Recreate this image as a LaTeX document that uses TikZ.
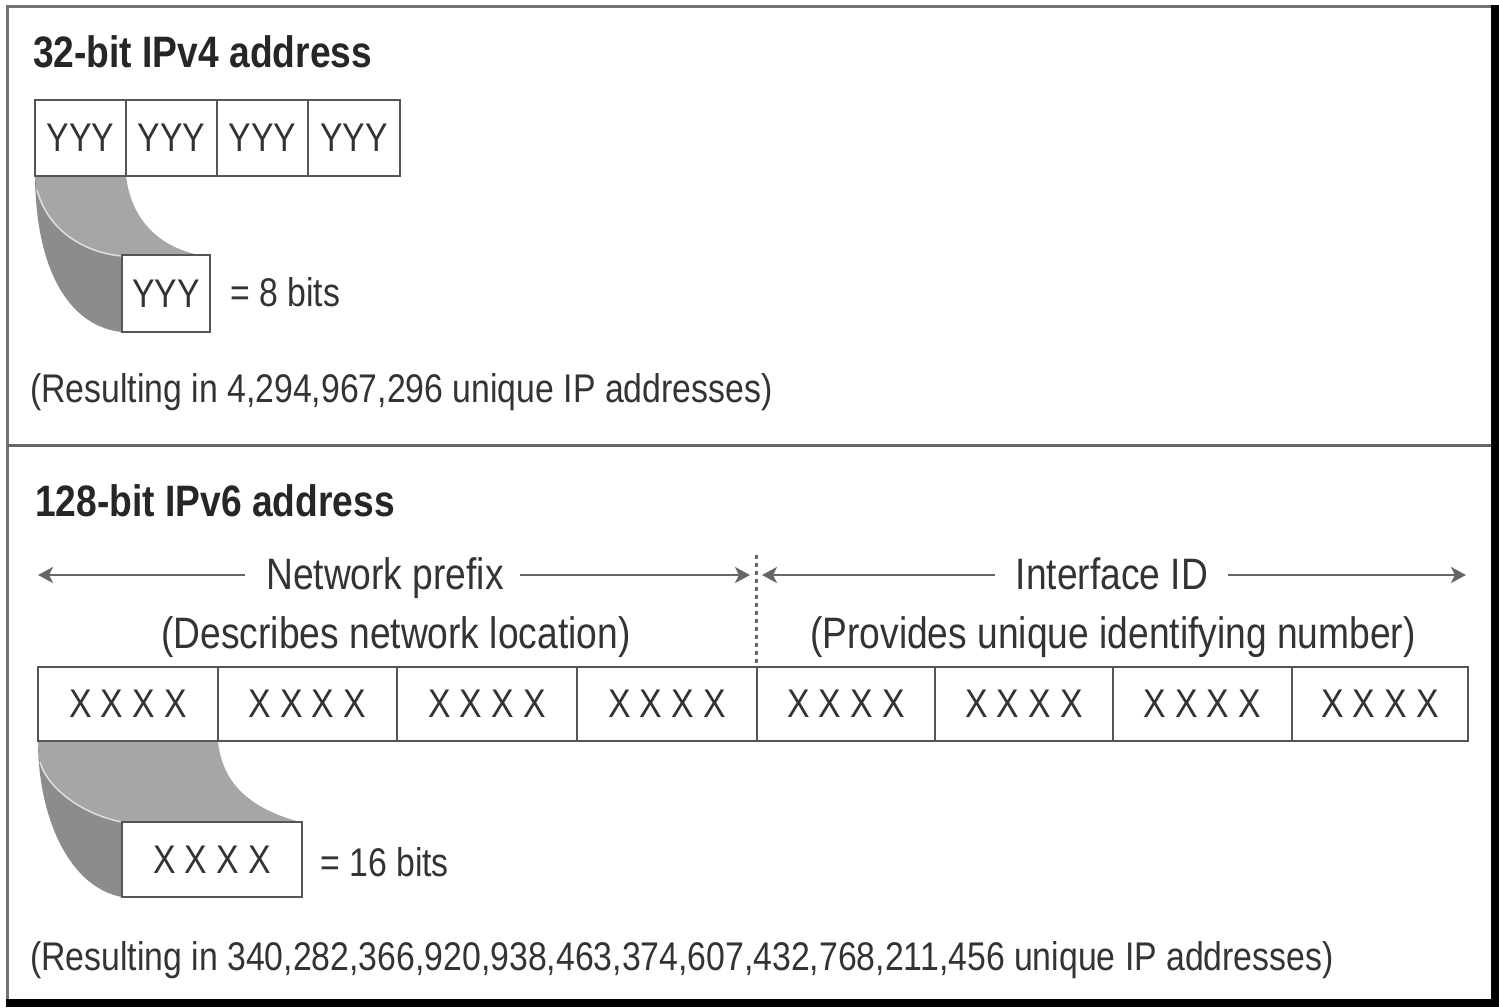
\documentclass[tikz,border=0pt]{standalone}
\usepackage{fontspec}
\setmainfont{Liberation Sans}[FakeStretch=0.845]
\usetikzlibrary{arrows.meta}
\definecolor{tc}{HTML}{333333}
\definecolor{bc}{HTML}{555555}
\definecolor{flight}{HTML}{A6A6A6}
\definecolor{fdark}{HTML}{8C8C8C}
\definecolor{ac}{HTML}{666666}
\newcommand{\xxxx}{X\hspace{9pt}X\hspace{9pt}X\hspace{9pt}X}
\begin{document}
\begin{tikzpicture}[x=1pt,y=-1pt,
  txt/.style={font=\fontsize{40}{48}\selectfont, inner sep=0pt, text=tc},
  big/.style={font=\fontsize{44}{52}\selectfont, inner sep=0pt, text=tc},
  ttl/.style={font=\fontsize{44}{52}\selectfont\bfseries, inner sep=0pt, text=black!85},
  cell/.style={draw=bc, line width=2.5pt, fill=white, inner sep=0pt, font=\fontsize{40}{48}\selectfont, text=tc},
  arr/.style={draw=ac, line width=2.5pt, -{Stealth[length=15pt,width=16pt,inset=4pt]}},
  hl/.style={draw=white!75!gray, line width=1.5pt}]
\useasboundingbox (0,0) rectangle (1499,1008);
\fill[white] (0,0) rectangle (1499,1008);
% outer frame
\draw[black!55, line width=3pt] (7,1003) -- (7,7) -- (1495,7);
\draw[black, line width=8pt] (1495,5.5) -- (1495,1003) -- (5.5,1003);
\draw[black!60, line width=3pt] (7,445) -- (1491,445);

% ---------- IPv4 ----------
\node[ttl, anchor=base west] (t4) at (33,68) {32-bit IPv4 address};
% gray 3D shape
\fill[flight] (35,176) -- (126,176) .. controls (132,225) and (165,250) .. (205,256) -- (122,256) .. controls (95,254) and (50,238) .. (37,190) -- cycle;
\fill[fdark] (35,176) .. controls (36,275) and (72,327) .. (122,332) -- (122,256) .. controls (95,254) and (50,238) .. (37,190) -- cycle;
\draw[hl] (37,190) .. controls (50,238) and (95,254) .. (122,256);
\node[cell, minimum width=91pt, minimum height=76pt] (a1) at (80.5,138) {YYY};
\node[cell, minimum width=91pt, minimum height=76pt] (a2) at (171.5,138) {YYY};
\node[cell, minimum width=91pt, minimum height=76pt] (a3) at (262.5,138) {YYY};
\node[cell, minimum width=92pt, minimum height=76pt] (a4) at (354,138) {YYY};
\node[cell, minimum width=88pt, minimum height=77pt] (s4) at (166,293.5) {YYY};
\node[txt, anchor=base west] (e4) at (230,306) {= 8 bits};
\node[txt, anchor=base west] (r4) at (30,402) {(Resulting in 4,294,967,296 unique IP addresses)};

% ---------- IPv6 ----------
\node[ttl, anchor=base west] (t6) at (35,516) {128-bit IPv6 address};
\node[big, anchor=base] (np) at (385,589) {Network prefix};
\node[big, anchor=base] (ii) at (1112,589) {Interface ID};
\coordinate (npl) at (245,575);
\coordinate (npr) at (520,575);
\coordinate (iil) at (995,575);
\coordinate (iir) at (1228,575);
\coordinate (L1) at (38,575);
\coordinate (L2) at (750,575);
\coordinate (L3) at (762,575);
\coordinate (L4) at (1466,575);
\draw[arr] (npl) -- (L1);
\draw[arr] (npr) -- (L2);
\draw[arr] (iil) -- (L3);
\draw[arr] (iir) -- (L4);
\coordinate (dt) at (756,555);
\coordinate (db) at (756,667);
\draw[draw=ac, line width=3pt, dash pattern=on 4pt off 4pt] (dt) -- (db);
\node[big, anchor=base] (dn) at (396,648) {(Describes network location)};
\node[big, anchor=base] (dp) at (1113,648) {(Provides unique identifying number)};

\fill[flight] (38,741) -- (218,741) .. controls (222,782) and (248,808) .. (300,822) -- (122,822) .. controls (85,815) and (48,790) .. (40,762) -- cycle;
\fill[fdark] (38,741) .. controls (38,815) and (68,887) .. (122,897) -- (122,822) .. controls (85,815) and (48,790) .. (40,762) -- cycle;
\draw[hl] (40,762) .. controls (48,790) and (85,815) .. (122,822);
\node[cell, minimum width=180pt, minimum height=74pt] (b1) at (128,704) {\xxxx};
\node[cell, minimum width=179pt, minimum height=74pt] (b2) at (307.5,704) {\xxxx};
\node[cell, minimum width=180pt, minimum height=74pt] (b3) at (487,704) {\xxxx};
\node[cell, minimum width=180pt, minimum height=74pt] (b4) at (667,704) {\xxxx};
\node[cell, minimum width=178pt, minimum height=74pt] (b5) at (846,704) {\xxxx};
\node[cell, minimum width=178pt, minimum height=74pt] (b6) at (1024,704) {\xxxx};
\node[cell, minimum width=179pt, minimum height=74pt] (b7) at (1202.5,704) {\xxxx};
\node[cell, minimum width=176pt, minimum height=74pt] (b8) at (1380,704) {\xxxx};
\node[cell, minimum width=180pt, minimum height=75pt] (s6) at (212,859.5) {\xxxx};
\node[txt, anchor=base west] (e6) at (320,876) {= 16 bits};
\node[txt, anchor=base west] (r6) at (30,970) {(Resulting in 340,282,366,920,938,463,374,607,432,768,211,456 unique IP addresses)};
\end{tikzpicture}
\end{document}
